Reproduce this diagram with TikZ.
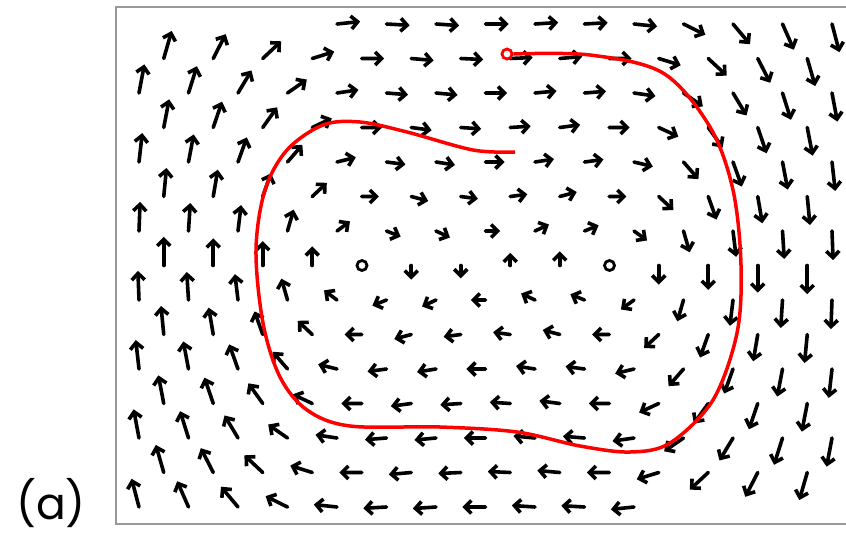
\documentclass[tikz,border=0pt]{standalone}
\usepackage{fontspec}
\newfontfamily\labelfont{Poppins}
\usetikzlibrary{arrows.meta}
\begin{document}
\begin{tikzpicture}[
    x=1pt, y=-1pt,
    vec/.style={line width=3.6pt, line cap=round, -{Straight Barb[length=6.5pt,width=13pt]}},
    centre/.style={circle, draw, line width=2.8pt, minimum size=10pt, inner sep=0pt},
    traj/.style={red, line width=3.5pt},
    every node/.style={inner sep=1pt}
]
\useasboundingbox (0,0) rectangle (846,536);

% Frame (right side runs off the page)
\draw[gray!80, line width=1.6pt] (846,7) -- (116,7) -- (116,524) -- (846,524);

% Arrow field, staggered rows
\foreach \j in {0,...,14}{
  \pgfmathsetmacro\yp{24+34.5*\j}
  \pgfmathtruncatemacro\odd{mod(\j,2)}
  \pgfmathsetmacro\xo{139+24.75*\odd}
  \pgfmathtruncatemacro\n{14-\odd}
  \foreach \i in {0,...,\n}{
    \pgfmathtruncatemacro\hide{(\j==0)*(\i<4)+(\j==14)*(\i>10)+(\j==7)*((\i==4)+(\i==9))}
    \ifnum\hide=0
      \pgfmathsetmacro\xp{\xo+49.5*\i}
      \pgfmathsetmacro\X{(\xp-485.75)/123.75}
      \pgfmathsetmacro\Yp{265.5-\yp}
      \pgfmathsetmacro\du{\Yp/47.9}
      \pgfmathsetmacro\dv{\X-\X*\X*\X}
      \pgfmathsetmacro\vx{\Yp/77}
      \pgfmathsetmacro\mag{sqrt(\vx*\vx+\dv*\dv)}
      \pgfmathsetmacro\len{11+20*\mag/(\mag+2)}
      \pgfmathsetmacro\nrm{sqrt(\du*\du+\dv*\dv)}
      \pgfmathsetmacro\ex{\len*\du/\nrm}
      \pgfmathsetmacro\ey{-\len*\dv/\nrm}
      \draw[vec] (\xp,\yp) -- ++(\ex,\ey);
    \fi
  }
}

% Centres
\node[centre] (cl) at (362,265.5) {};
\node[centre] (cr) at (609.5,265.5) {};

% Trajectory
\node[centre, draw=red, fill=white] (start) at (507,54) {};
\draw[traj] plot[smooth, tension=0.55] coordinates {
  (start.east) (590,55) (663,73) (710,127) (733,190) (741,265) (737,333)
  (713,400) (670,443) (630,452) (580,446) (517,432) (440,427) (350,426)
  (307,410) (280,377) (263,323) (256,250) (265,190) (287,150) (323,125)
  (360,122) (407,132) (473,150) (515,152)};

% Panel label
\node[font=\labelfont\fontsize{44}{44}\selectfont] (lbl) at (51,503) {(a)};
\end{tikzpicture}
\end{document}
